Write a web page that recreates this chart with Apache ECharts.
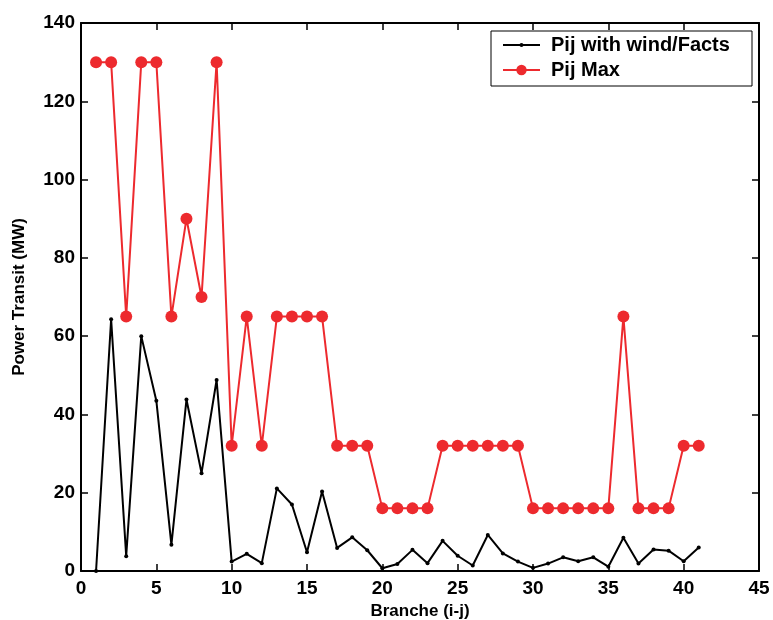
<!DOCTYPE html>
<html>
<head>
<meta charset="utf-8">
<script src="https://cdn.jsdelivr.net/npm/echarts@6/dist/echarts.min.js"></script>
<style>
  html, body { margin: 0; padding: 0; background: #fff; }
  #chart { width: 773px; height: 620px; }
</style>
</head>
<body>
<div id="chart"></div>
<script>
  var branches = [1, 2, 3, 4, 5, 6, 7, 8, 9, 10, 11, 12, 13, 14, 15, 16, 17, 18, 19, 20,
    21, 22, 23, 24, 25, 26, 27, 28, 29, 30, 31, 32, 33, 34, 35, 36, 37, 38, 39, 40, 41];
  var pijWind = [0, 64.3, 3.8, 60, 43.5, 6.7, 43.8, 25, 48.8, 2.4, 4.4, 2, 21.1, 17, 4.8, 20.3, 5.9, 8.6, 5.3, 0.7,
    1.8, 5.4, 2, 7.7, 3.9, 1.4, 9.2, 4.5, 2.4, 0.8, 1.9, 3.5, 2.5, 3.5, 1.1, 8.5, 1.9, 5.5, 5.2, 2.5, 6];
  var pijMax = [130, 130, 65, 130, 130, 65, 90, 70, 130, 32, 65, 32, 65, 65, 65, 65, 32, 32, 32, 16,
    16, 16, 16, 32, 32, 32, 32, 32, 32, 16, 16, 16, 16, 16, 16, 65, 16, 16, 16, 32, 32];

  function pairs(values) {
    return branches.map(function (b, i) { return [b, values[i]]; });
  }

  var font = 'Liberation Sans, Arial, sans-serif';
  var red = '#ed2a2e';
  var axisLine = { show: true, onZero: false, lineStyle: { color: '#000', width: 2 } };
  var tickIn = { show: true, inside: true, length: 7, lineStyle: { color: '#000', width: 1.5 } };
  var tickLabel = { color: '#000', fontFamily: font, fontWeight: 'bold', fontSize: 19 };
  var legendText = { color: '#000', fontFamily: font, fontWeight: 'bold', fontSize: 20, lineHeight: 22, padding: [0, 0, 0, 6] };

  var chart = echarts.init(document.getElementById('chart'), null, { renderer: 'canvas' });
  chart.setOption({
    animation: false,
    backgroundColor: '#fff',
    grid: { left: 81, right: 14, top: 23, bottom: 49, containLabel: false, outerBoundsMode: 'none' },
    graphic: [{
      type: 'rect',
      shape: { x: 491, y: 31, width: 261, height: 55 },
      style: { fill: '#fff', stroke: '#000', lineWidth: 1 },
      z: 50
    }],
    legend: [{
      left: 502, top: 34,
      itemWidth: 37, itemHeight: 5,
      padding: 0,
      textStyle: legendText,
      data: ['Pij with wind/Facts'],
      z: 60
    }, {
      left: 502, top: 59,
      itemWidth: 37, itemHeight: 13,
      padding: 0,
      textStyle: legendText,
      data: ['Pij Max'],
      z: 60
    }],
    xAxis: [{
      type: 'value', min: 0, max: 45, interval: 5, position: 'bottom',
      name: 'Branche (i-j)', nameLocation: 'middle', nameGap: 26,
      nameTextStyle: { color: '#000', fontFamily: font, fontWeight: 'bold', fontSize: 17 },
      axisLine: axisLine, axisTick: tickIn,
      axisLabel: Object.assign({ margin: 8 }, tickLabel),
      splitLine: { show: false }
    }, {
      type: 'value', min: 0, max: 45, interval: 5, position: 'top',
      axisLine: axisLine, axisTick: tickIn, axisLabel: { show: false }, splitLine: { show: false }
    }],
    yAxis: [{
      type: 'value', min: 0, max: 140, interval: 20, position: 'left',
      name: 'Power Transit (MW)', nameLocation: 'middle', nameGap: 53, nameRotate: 90,
      nameTextStyle: { color: '#000', fontFamily: font, fontWeight: 'bold', fontSize: 17 },
      axisLine: axisLine, axisTick: tickIn,
      axisLabel: Object.assign({ margin: 6 }, tickLabel),
      splitLine: { show: false }
    }, {
      type: 'value', min: 0, max: 140, interval: 20, position: 'right',
      axisLine: axisLine, axisTick: tickIn, axisLabel: { show: false }, splitLine: { show: false }
    }],
    series: [{
      name: 'Pij with wind/Facts',
      type: 'line',
      data: pairs(pijWind),
      symbol: 'circle', symbolSize: 4,
      itemStyle: { color: '#000' },
      lineStyle: { color: '#000', width: 2 },
      z: 3
    }, {
      name: 'Pij Max',
      type: 'line',
      data: pairs(pijMax),
      symbol: 'circle', symbolSize: 12,
      itemStyle: { color: red },
      lineStyle: { color: red, width: 2 },
      z: 2
    }]
  });
</script>
</body>
</html>
